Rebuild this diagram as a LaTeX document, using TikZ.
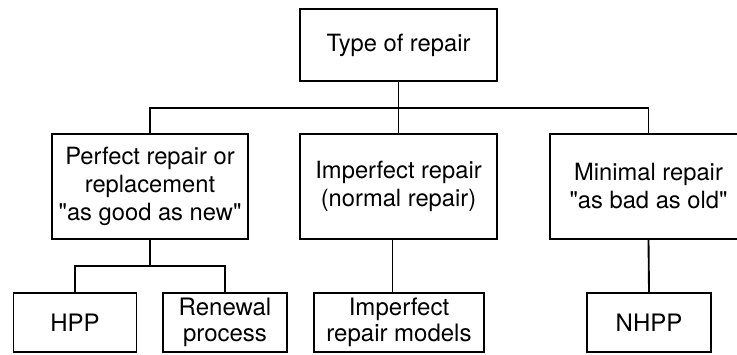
\documentclass[tikz,border=0pt]{standalone}
\usepackage{fontspec}
\setmainfont{TeX Gyre Heros}
\tikzset{every picture/.style={line width=0.75pt}}
\tikzset{
  repbox/.style={draw, line width=1.4pt, inner sep=0pt, align=center, font=\fontsize{17.8}{21}\selectfont},
  leafbox/.style={repbox, minimum height=44.25pt, font=\fontsize{18}{19.2}\selectfont},
  link/.style={line width=1.4pt}
}

\begin{document}
\begin{tikzpicture}[x=0.75pt,y=0.75pt,yscale=-1,xscale=1]
\useasboundingbox (0,0) rectangle (737,354);

% Root
\node [repbox, minimum width=147.75pt, minimum height=54pt] (typ) at (398.5,45) {Type of repair};

% Second row
\node [repbox, minimum width=147pt, minimum height=78.75pt] (perfect) at (150,186.5) {Perfect repair or\\replacement\\\textquotedbl as good as new\textquotedbl};
\node [repbox, minimum width=147.75pt, minimum height=78.75pt] (imperfect) at (398.5,186.5) {Imperfect repair\\(normal repair)};
\node [repbox, minimum width=147.75pt, minimum height=78.75pt] (minimal) at (648.5,186.5) {Minimal repair\\\textquotedbl as bad as old\textquotedbl};

% Bottom row
\node [leafbox, minimum width=92.25pt] (hpp) at (75,322.5) {HPP};
\node [leafbox, minimum width=93pt] (renewal) at (225,322.5) {Renewal\\process};
\node [leafbox, minimum width=127.5pt] (models) at (399,322.5) {Imperfect\\repair models};
\node [leafbox, minimum width=93pt] (nhpp) at (649,322.5) {NHPP};

% Junctions
\coordinate (bus) at (398.5,108);
\coordinate (fork) at (150,266);

%Straight Lines
\draw [link] (typ.south) -- (bus);
\draw [link] (bus) -| (perfect.north);
\draw [link] (bus) -- (imperfect.north);
\draw [link] (bus) -| (minimal.north);
%Straight Lines
\draw [link] (perfect.south) -- (fork);
\draw [link] (fork) -| (hpp.north);
\draw [link] (fork) -| (renewal.north);
\draw [link] ([xshift=-4.5pt]imperfect.south) -- ([xshift=-4.5pt]imperfect.south |- models.north);
\draw [link] (minimal.south) -- (nhpp.north);

\end{tikzpicture}
\end{document}
